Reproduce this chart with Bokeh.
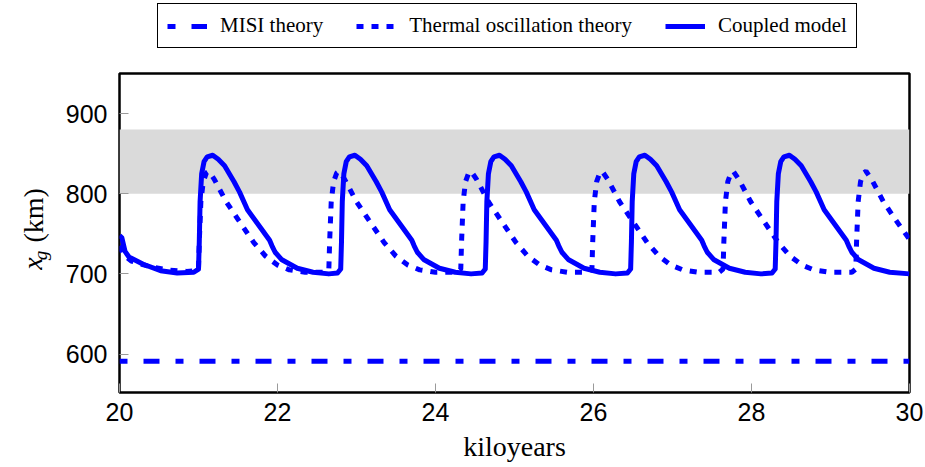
from math import pi
from bokeh.plotting import figure
from bokeh.layouts import row, column
from bokeh.models import BoxAnnotation, Legend, LegendItem, Range1d, FixedTicker
from bokeh.core.properties import value
from bokeh.embed import file_html
from bokeh.resources import INLINE

# ---------------- data ----------------
x_ticks = [20, 22, 24, 26, 28, 30]
y_ticks = [600, 700, 800, 900]
band_bottom = 800
band_top = 880

misi_x = [20.0, 30.0]
misi_y = [591, 591]

thermal_x = [
    20.00, 20.05, 20.15, 20.35, 20.60, 20.85, 20.97,
    21.00, 21.01, 21.03, 21.06, 21.10, 21.13, 21.20, 21.35, 21.50, 21.70, 21.85, 22.00, 22.15, 22.35, 22.60,
    22.65, 22.66, 22.68, 22.71, 22.75, 22.78, 22.85, 23.00, 23.15, 23.35, 23.50, 23.65, 23.80, 24.00, 24.27,
    24.32, 24.33, 24.35, 24.38, 24.42, 24.45, 24.52, 24.67, 24.82, 25.02, 25.17, 25.32, 25.47, 25.67, 25.93,
    25.98, 25.99, 26.01, 26.04, 26.08, 26.11, 26.18, 26.33, 26.48, 26.68, 26.83, 26.98, 27.13, 27.33, 27.59,
    27.64, 27.65, 27.67, 27.70, 27.74, 27.77, 27.84, 27.99, 28.14, 28.34, 28.49, 28.64, 28.79, 28.99, 29.27,
    29.32, 29.33, 29.35, 29.38, 29.42, 29.45, 29.52, 29.67, 29.82, 30.00,
]
thermal_y = [
    735, 724, 716, 710, 705, 703, 704,
    706, 740, 790, 815, 826, 828, 818, 790, 768, 739, 722, 711, 705, 702, 702,
    706, 740, 790, 815, 826, 828, 818, 790, 768, 739, 722, 711, 705, 702, 702,
    706, 740, 790, 815, 826, 828, 818, 790, 768, 739, 722, 711, 705, 702, 702,
    706, 740, 790, 815, 826, 828, 818, 790, 768, 739, 722, 711, 705, 702, 702,
    706, 740, 790, 815, 826, 828, 818, 790, 768, 739, 722, 711, 705, 702, 702,
    706, 740, 790, 815, 826, 828, 818, 790, 768, 743,
]

coupled_x = [
    20.00, 20.03, 20.07, 20.12, 20.30, 20.52, 20.73, 20.94,
    21.00, 21.01, 21.02, 21.04, 21.07, 21.11, 21.18, 21.25, 21.33, 21.45, 21.52, 21.62, 21.79, 21.90, 21.93,
    21.97, 22.05, 22.25, 22.45, 22.65, 22.76,
    22.80, 22.81, 22.82, 22.84, 22.87, 22.91, 22.98, 23.05, 23.13, 23.25, 23.32, 23.42, 23.59, 23.70, 23.73,
    23.77, 23.85, 24.05, 24.25, 24.45, 24.59,
    24.63, 24.64, 24.65, 24.67, 24.70, 24.74, 24.81, 24.88, 24.96, 25.08, 25.15, 25.25, 25.42, 25.53, 25.56,
    25.60, 25.68, 25.88, 26.08, 26.28, 26.43,
    26.47, 26.48, 26.49, 26.51, 26.54, 26.58, 26.65, 26.72, 26.80, 26.92, 26.99, 27.09, 27.26, 27.37, 27.40,
    27.44, 27.52, 27.72, 27.92, 28.12, 28.26,
    28.30, 28.31, 28.32, 28.34, 28.37, 28.41, 28.48, 28.55, 28.63, 28.75, 28.82, 28.92, 29.09, 29.20, 29.23,
    29.27, 29.35, 29.55, 29.75, 30.00,
]
coupled_y = [
    748, 745, 728, 721, 712, 704, 701, 702,
    706, 740, 790, 825, 840, 846, 848, 843, 835, 815, 802, 780, 757, 742, 735,
    727, 718, 707, 702, 700, 701,
    706, 740, 790, 825, 840, 846, 848, 843, 835, 815, 802, 780, 757, 742, 735,
    727, 718, 707, 702, 700, 701,
    706, 740, 790, 825, 840, 846, 848, 843, 835, 815, 802, 780, 757, 742, 735,
    727, 718, 707, 702, 700, 701,
    706, 740, 790, 825, 840, 846, 848, 843, 835, 815, 802, 780, 757, 742, 735,
    727, 718, 707, 702, 700, 701,
    706, 740, 790, 825, 840, 846, 848, 843, 835, 815, 802, 780, 757, 742, 735,
    727, 718, 707, 702, 700,
]

series_labels = ["MISI theory", "Thermal oscillation theory", "Coupled model"]
x_label = "kiloyears"
y_label_parts = ["x", "g", "(km)"]

BLUE = "#0000ff"
SERIF = "Liberation Serif"
W, H = 925, 467
LABEL_W = 55
TOP_H = 70
styles = [dict(line_dash="8 16 16 16"), dict(line_dash="7 8"), dict(line_join="round")]
series = [(misi_x, misi_y), (thermal_x, thermal_y), (coupled_x, coupled_y)]

# ---------------- main plot ----------------
p = figure(width=W - LABEL_W, height=H - TOP_H, x_range=Range1d(20, 30), y_range=Range1d(552, 950),
           output_backend="svg", toolbar_location=None,
           min_border_left=119 - LABEL_W, min_border_right=16, min_border_top=3, min_border_bottom=75)
p.xgrid.visible = False
p.ygrid.visible = False
p.outline_line_color = "black"
p.outline_line_width = 2.5
p.outline_line_alpha = 1.0
p.background_fill_color = "white"
p.border_fill_color = "white"

for ax, ticks in ((p.xaxis, x_ticks), (p.yaxis, y_ticks)):
    ax.ticker = FixedTicker(ticks=ticks)
    ax.axis_line_color = None
    ax.major_tick_in = 9
    ax.major_tick_out = 0
    ax.minor_tick_in = 0
    ax.minor_tick_out = 0
    ax.major_tick_line_color = "#9a9a9a"
    ax.major_tick_line_width = 1
    ax.major_label_text_font = "Liberation Sans"
    ax.major_label_text_font_size = "25px"
    ax.major_label_text_color = "black"
p.xaxis.major_label_standoff = 10
p.yaxis.major_label_standoff = 12
p.xaxis.axis_label = x_label
p.xaxis.axis_label_text_font = SERIF
p.xaxis.axis_label_text_font_style = "normal"
p.xaxis.axis_label_text_font_size = "28px"
p.xaxis.axis_label_text_color = "black"
p.xaxis.axis_label_standoff = 7

p.add_layout(BoxAnnotation(bottom=band_bottom, top=band_top, fill_color="#dadada", fill_alpha=1.0,
                           line_color=None, level="underlay"))

for (xs, ys), st in zip(series, styles):
    p.line(xs, ys, line_color=BLUE, line_width=5, **st)

# ---------------- legend strip on top (same series, out of its view; only the legend shows) ----------------
top = figure(width=W, height=TOP_H, x_range=Range1d(0, 1), y_range=Range1d(0, 1),
             output_backend="svg", toolbar_location=None,
             min_border_left=119, min_border_right=16, min_border_top=0, min_border_bottom=0)
top.axis.visible = False
top.grid.visible = False
top.outline_line_color = None
top.background_fill_color = "white"
top.border_fill_color = "white"
legend_renderers = [top.line(xs, ys, line_color=BLUE, line_width=5, **st)
                    for (xs, ys), st in zip(series, styles)]
legend = Legend(items=[LegendItem(label=lbl, renderers=[r]) for lbl, r in zip(series_labels, legend_renderers)],
                location=(38, 22), orientation="horizontal",
                border_line_color="black", border_line_width=1, border_line_alpha=1.0,
                background_fill_color="white", background_fill_alpha=1.0,
                label_text_font=SERIF, label_text_font_size="21px", label_text_color="black",
                glyph_width=40, glyph_height=20, label_standoff=13, spacing=33,
                padding=9, margin=0)
top.add_layout(legend)

# ---------------- y-axis label strip (x_g (km)); shares the main y range ----------------
lab = figure(width=LABEL_W, height=H - TOP_H, x_range=Range1d(0, LABEL_W), y_range=p.y_range,
             output_backend="svg", toolbar_location=None,
             min_border_left=0, min_border_right=0, min_border_top=3, min_border_bottom=75)
lab.axis.visible = False
lab.grid.visible = False
lab.outline_line_color = None
lab.background_fill_color = "white"
lab.border_fill_color = "white"
lab.text(x=[32], y=[713], text=[y_label_parts[0]], angle=pi / 2,
         text_font=value(SERIF), text_font_style="italic", text_font_size="28px",
         text_align="center", text_baseline="alphabetic", text_color="black")
lab.text(x=[40], y=[723], text=[y_label_parts[1]], angle=pi / 2,
         text_font=value(SERIF), text_font_style="italic", text_font_size="19px",
         text_align="center", text_baseline="alphabetic", text_color="black")
lab.text(x=[33], y=[773], text=[y_label_parts[2]], angle=pi / 2,
         text_font=value(SERIF), text_font_style="normal", text_font_size="28px",
         text_align="center", text_baseline="alphabetic", text_color="black")

layout = column(top, row(lab, p, spacing=0), spacing=0)
open("out.html", "w").write(file_html(layout, INLINE))
